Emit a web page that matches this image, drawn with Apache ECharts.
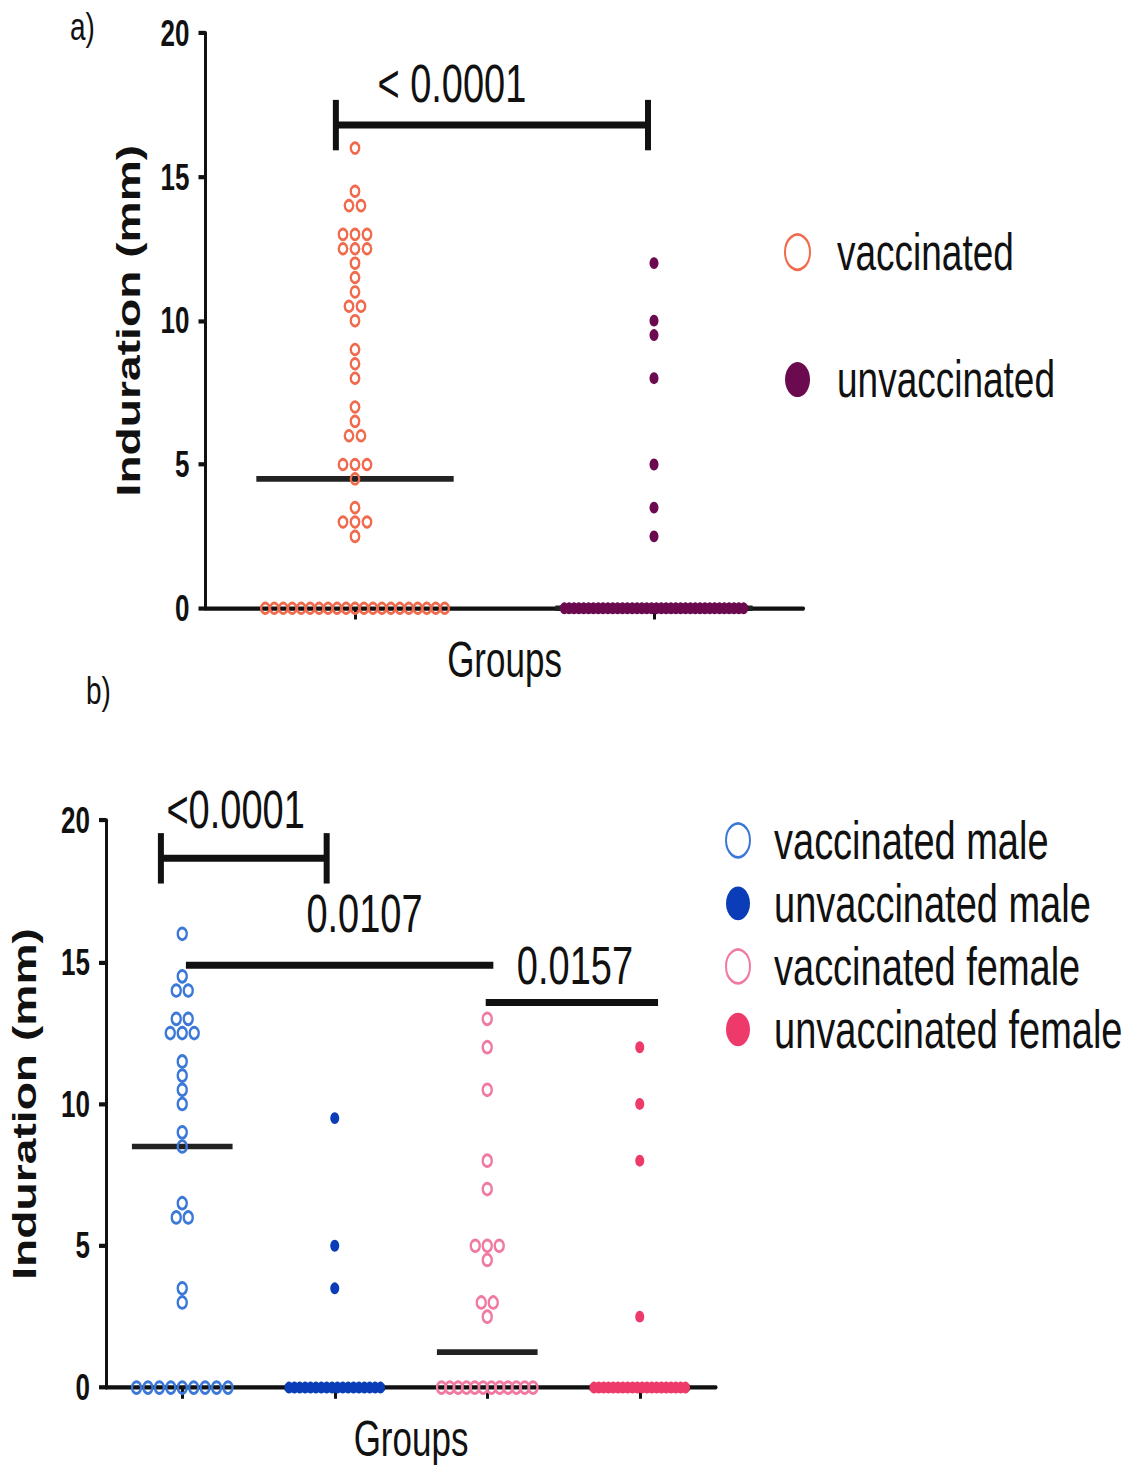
<!DOCTYPE html>
<html><head><meta charset="utf-8">
<script src="https://cdn.jsdelivr.net/npm/echarts@6/dist/echarts.min.js"></script>
<style>
html{margin:0;padding:0;background:#fff;overflow:hidden;}
body{margin:0;padding:0;background:#fff;width:1143px;height:1465px;}
#main{width:1143px;height:1046px;transform:scaleY(1.4006);transform-origin:0 0;}
</style>
</head><body><div id="main"></div>
<script>
// ---------- DATA (Induration, mm) ----------
const groupsA = ['vaccinated', 'unvaccinated'];
const vaccinatedA = [16, 14.5, 14, 14, 13, 13, 13, 12.5, 12.5, 12.5, 12, 11.5, 11, 10.5, 10.5, 10, 9, 8.5, 8, 7, 6.5, 6, 6, 5, 5, 5, 4.5, 3.5, 3, 3, 3, 2.5,
  0, 0, 0, 0, 0, 0, 0, 0, 0, 0, 0, 0, 0, 0, 0, 0, 0, 0, 0, 0, 0];
const unvaccinatedA = [12, 10, 9.5, 8, 5, 3.5, 2.5,
  0, 0, 0, 0, 0, 0, 0, 0, 0, 0, 0, 0, 0, 0, 0, 0, 0, 0, 0, 0, 0, 0, 0, 0, 0, 0, 0, 0, 0, 0, 0, 0, 0, 0, 0, 0, 0, 0];
const mediansA = [4.5, 0];
// bracket: [fromGroup, toGroup, y, labelGroupPos, labelY, hasEndTicks]
const bracketsA = [[-0.064, 0.98, 16.8, 0.324, 18.26, 1]];
const bracketLabelsA = ['< 0.0001'];

const groupsB = ['vaccinated male', 'unvaccinated male', 'vaccinated female', 'unvaccinated female'];
const vaccMaleB = [16, 14.5, 14, 14, 13, 13, 12.5, 12.5, 12.5, 11.5, 11, 10.5, 10, 9, 8.5, 6.5, 6, 6, 3.5, 3,
  0, 0, 0, 0, 0, 0, 0, 0, 0];
const unvaccMaleB = [9.5, 5, 3.5,
  0, 0, 0, 0, 0, 0, 0, 0, 0, 0, 0, 0, 0, 0, 0, 0, 0, 0];
const vaccFemaleB = [13, 12, 10.5, 8, 7, 5, 5, 5, 4.5, 3, 3, 2.5,
  0, 0, 0, 0, 0, 0, 0, 0, 0, 0, 0, 0];
const unvaccFemaleB = [12, 10, 8, 2.5,
  0, 0, 0, 0, 0, 0, 0, 0, 0, 0, 0, 0, 0, 0, 0, 0, 0, 0, 0, 0];
const mediansB = [8.5, 0, 1.25, 0];
const bracketsB = [
  [-0.14, 0.947, 18.66, 0.35, 20.39, 1],
  [0.024, 2.04, 14.89, 1.195, 16.72, 0],
  [1.99, 3.12, 13.58, 2.575, 14.89, 0]
];
const bracketLabelsB = ['<0.0001', '0.0107', '0.0157'];

const yTicks = [0, 5, 10, 15, 20];

// ---------- STYLE / LAYOUT ----------
const FONT = '"Liberation Sans", Arial, sans-serif';
const gridA = { left: 205.5, top: 23.6, width: 598, height: 410.7 };
const gridB = { left: 105, top: 585.7, width: 611, height: 405 };
const ROW_STEP_PX = 12, MAX_ROW_FRAC = 0.6, MED_HALF = 0.33;

function swarm(values, group, ppu) {
  const rows = new Map();
  values.forEach(v => rows.set(v, (rows.get(v) || 0) + 1));
  const pts = [];
  rows.forEach((n, v) => {
    const step = n > 1 ? Math.min(ROW_STEP_PX, MAX_ROW_FRAC * ppu / (n - 1)) : 0;
    for (let k = 0; k < n; k++) {
      const off = (k - (n - 1) / 2) * step;
      pts.push([group + 0.5 + off / ppu, v]);
    }
  });
  return pts;
}

function medianRender(params, api) {
  const g = api.value(0), m = api.value(1);
  const p1 = api.coord([g + 0.5 - MED_HALF, m]);
  const p2 = api.coord([g + 0.5 + MED_HALF, m]);
  return { type: 'line', shape: { x1: p1[0], y1: p1[1], x2: p2[0], y2: p2[1] },
    style: { stroke: '#222', lineWidth: 4 } };
}

function makeBracketRender(labels) {
  return function (params, api) {
    const a = api.coord([api.value(0) + 0.5, api.value(2)]);
    const b = api.coord([api.value(1) + 0.5, api.value(2)]);
    const t = api.coord([api.value(3) + 0.5, api.value(4)]);
    const ch = [{ type: 'line', shape: { x1: a[0], y1: a[1], x2: b[0], y2: b[1] },
      style: { stroke: '#111', lineWidth: 5 } }];
    if (api.value(5)) {
      [a[0], b[0]].forEach(x => ch.push({ type: 'line',
        shape: { x1: x, y1: a[1] - 18, x2: x, y2: a[1] + 18 },
        style: { stroke: '#111', lineWidth: 6 } }));
    }
    ch.push({ type: 'text', x: t[0], y: t[1],
      style: { text: labels[params.dataIndex], fontSize: 38, fontFamily: FONT, fill: '#111',
        align: 'center', verticalAlign: 'middle' } });
    return { type: 'group', children: ch };
  };
}

function xAxisFor(gi, n) {
  return {
    type: 'value', gridIndex: gi, min: 0, max: n,
    name: 'Groups', nameLocation: 'middle', nameGap: 19,
    nameTextStyle: { fontSize: 35, lineHeight: 35, fontFamily: FONT, color: '#111' },
    axisLine: { show: true, lineStyle: { color: '#111', width: 3 } },
    axisTick: { show: true, inside: false, length: 8, lineStyle: { color: '#111', width: 3 },
      customValues: Array.from({ length: n }, (_, i) => i + 0.5) },
    axisLabel: { show: false },
    splitLine: { show: false }
  };
}
function yAxisFor(gi, gap) {
  return {
    type: 'value', gridIndex: gi, min: 0, max: 20, interval: 5,
    name: 'Induration (mm)', nameLocation: 'middle', nameGap: gap, nameRotate: 90,
    nameTextStyle: { fontSize: 33, fontWeight: 'bold', fontFamily: FONT, color: '#111' },
    axisLine: { show: true, lineStyle: { color: '#111', width: 3 } },
    axisTick: { show: true, inside: false, length: 7, lineStyle: { color: '#111', width: 3 } },
    axisLabel: { show: true, margin: 16, fontSize: 26, fontWeight: 'bold', fontFamily: FONT, color: '#111',
      customValues: yTicks },
    splitLine: { show: false }
  };
}

const ppuA = gridA.width / groupsA.length;
const ppuB = gridB.width / groupsB.length;

function openSeries(name, vals, g, ppu, color, axis, size) {
  return { name, type: 'scatter', xAxisIndex: axis, yAxisIndex: axis, clip: false, z: 3,
    symbol: 'circle', symbolSize: size,
    itemStyle: { color: 'transparent', borderColor: color, borderWidth: 2.2, opacity: 1 },
    emphasis: { disabled: true }, data: swarm(vals, g, ppu) };
}
function filledSeries(name, vals, g, ppu, color, axis, size) {
  return { name, type: 'scatter', xAxisIndex: axis, yAxisIndex: axis, clip: false, z: 3,
    symbol: 'circle', symbolSize: size,
    itemStyle: { color: color, opacity: 1 },
    emphasis: { disabled: true }, data: swarm(vals, g, ppu) };
}

const chart = echarts.init(document.getElementById('main'), null, { renderer: 'svg' });
chart.setOption({
  animation: false,
  backgroundColor: '#fff',
  textStyle: { fontFamily: FONT },
  title: [
    { text: 'a)', left: 70, top: 5, padding: 0, textStyle: { fontSize: 28, fontWeight: 'normal', fontFamily: FONT, color: '#111' } },
    { text: 'b)', left: 86, top: 479, padding: 0, textStyle: { fontSize: 28, fontWeight: 'normal', fontFamily: FONT, color: '#111' } }
  ],
  grid: [
    Object.assign({ containLabel: false }, gridA),
    Object.assign({ containLabel: false }, gridB)
  ],
  xAxis: [xAxisFor(0, groupsA.length), xAxisFor(1, groupsB.length)],
  yAxis: [yAxisFor(0, 60), yAxisFor(1, 65)],
  legend: [
    { data: groupsA, orient: 'vertical', left: 784, top: 160, padding: 0,
      itemWidth: 69, itemHeight: 25, itemGap: 51, selectedMode: false,
      textStyle: { fontSize: 37, lineHeight: 40, fontFamily: FONT, color: '#111' } },
    { data: groupsB, orient: 'vertical', left: 725, top: 580, padding: 0,
      itemWidth: 62, itemHeight: 24, itemGap: 5, selectedMode: false,
      textStyle: { fontSize: 38, lineHeight: 40, fontFamily: FONT, color: '#111' } }
  ],
  series: [
    { type: 'custom', xAxisIndex: 0, yAxisIndex: 0, z: 2, clip: false, silent: true,
      renderItem: medianRender, data: mediansA.map((m, i) => [i, m]) },
    { type: 'custom', xAxisIndex: 1, yAxisIndex: 1, z: 2, clip: false, silent: true,
      renderItem: medianRender, data: mediansB.map((m, i) => [i, m]) },
    openSeries(groupsA[0], vaccinatedA, 0, ppuA, '#f06a4e', 0, [8.5, 7.5]),
    filledSeries(groupsA[1], unvaccinatedA, 1, ppuA, '#6b0a4f', 0, [9, 8.5]),
    openSeries(groupsB[0], vaccMaleB, 0, ppuB, '#3b78d8', 1, [9, 8.3]),
    filledSeries(groupsB[1], unvaccMaleB, 1, ppuB, '#0b3db8', 1, [9, 8.5]),
    openSeries(groupsB[2], vaccFemaleB, 2, ppuB, '#f07aa0', 1, [9, 8.3]),
    filledSeries(groupsB[3], unvaccFemaleB, 3, ppuB, '#ee3a6a', 1, [9, 8.5]),
    { type: 'custom', xAxisIndex: 0, yAxisIndex: 0, z: 4, clip: false, silent: true,
      renderItem: makeBracketRender(bracketLabelsA), data: bracketsA },
    { type: 'custom', xAxisIndex: 1, yAxisIndex: 1, z: 4, clip: false, silent: true,
      renderItem: makeBracketRender(bracketLabelsB), data: bracketsB }
  ]
});
</script></body></html>
